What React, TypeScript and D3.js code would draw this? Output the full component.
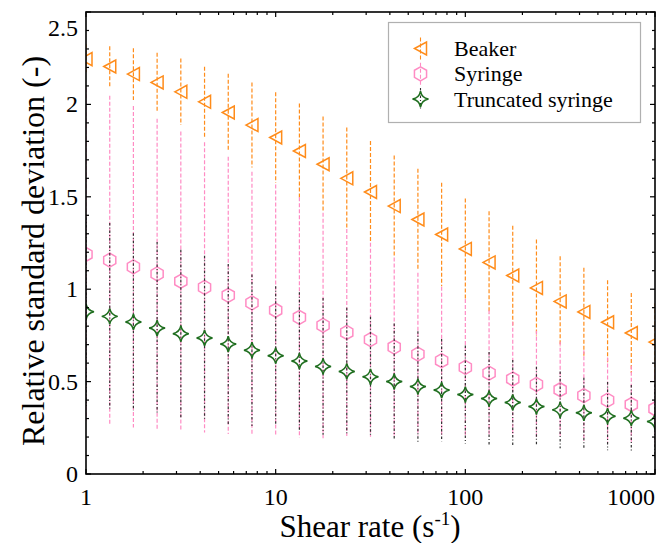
import React from 'react';
import * as d3 from 'd3';

// shear rates (s^-1), 8 points per decade
const shearRate = [1, 1.334, 1.778, 2.371, 3.162, 4.217, 5.623, 7.499, 10, 13.34, 17.78, 23.71, 31.62, 42.17, 56.23, 74.99, 100, 133.4, 177.8, 237.1, 316.2, 421.7, 562.3, 749.9, 1000];

const beaker = [2.245, 2.205, 2.164, 2.119, 2.068, 2.014, 1.956, 1.888, 1.821, 1.748, 1.676, 1.6, 1.526, 1.45, 1.377, 1.296, 1.218, 1.145, 1.074, 1.007, 0.934, 0.877, 0.821, 0.763, 0.714];
const beakerErr = [0.08, 0.11, 0.14, 0.16, 0.18, 0.19, 0.21, 0.23, 0.245, 0.257, 0.258, 0.275, 0.276, 0.274, 0.275, 0.28, 0.273, 0.277, 0.27, 0.262, 0.244, 0.239, 0.227, 0.217, 0.21];

const syringe = [1.188, 1.157, 1.121, 1.083, 1.043, 1.01, 0.967, 0.926, 0.886, 0.848, 0.804, 0.766, 0.727, 0.687, 0.649, 0.613, 0.577, 0.546, 0.514, 0.485, 0.456, 0.424, 0.4, 0.376, 0.353];
const syringeErr = [0.9, 0.89, 0.87, 0.84, 0.81, 0.785, 0.75, 0.71, 0.68, 0.65, 0.61, 0.56, 0.525, 0.485, 0.44, 0.4, 0.37, 0.34, 0.31, 0.29, 0.26, 0.245, 0.23, 0.21, 0.2];

const truncated = [0.878, 0.853, 0.823, 0.79, 0.759, 0.736, 0.703, 0.67, 0.64, 0.611, 0.582, 0.555, 0.526, 0.5, 0.473, 0.454, 0.43, 0.408, 0.387, 0.365, 0.347, 0.331, 0.313, 0.302, 0.284];
const truncatedErr = [0.51, 0.505, 0.48, 0.465, 0.455, 0.445, 0.433, 0.41, 0.376, 0.372, 0.37, 0.344, 0.325, 0.315, 0.3, 0.277, 0.265, 0.252, 0.23, 0.215, 0.208, 0.19, 0.185, 0.18, 0.2];

const xTickLabels = [1, 10, 100, 1000];
const yTickLabels = [0, 0.5, 1, 1.5, 2, 2.5];
const legendNames = ['Beaker', 'Syringe', 'Truncated syringe'];

const W = 659, H = 543;
const left = 86, right = 655, top = 12, bottom = 474;
const FONT = 'Liberation Serif';

const x = d3.scaleLog().domain([1, 1000]).range([left, right]);
const y = d3.scaleLinear().domain([0, 2.5]).range([bottom, top]);

const ORANGE = '#ff8c1a';
const PINK = '#ff8cc4';
const GREEN = '#1f6e1f';

const triangle = 'M-6,0 L6,-6.5 L6,6.5 Z';
const hexagon = d3.range(6).map(i => {
  const a = Math.PI / 3 * i - Math.PI / 2;
  return (i ? 'L' : 'M') + (7 * Math.cos(a)).toFixed(2) + ',' + (7 * Math.sin(a)).toFixed(2);
}).join(' ') + ' Z';
const star = 'M0,-8 Q1.2,-1.2 8,0 Q1.2,1.2 0,8 Q-1.2,1.2 -8,0 Q-1.2,-1.2 0,-8 Z';

const series = [
  { name: legendNames[0], values: beaker, err: beakerErr, color: ORANGE, barColor: ORANGE, dash: '4,2', shape: triangle },
  { name: legendNames[1], values: syringe, err: syringeErr, color: PINK, barColor: PINK, dash: '4,2', shape: hexagon },
  { name: legendNames[2], values: truncated, err: truncatedErr, color: GREEN, barColor: '#333', dash: '2.5,2,1,2', shape: star },
];

function Series({ s }) {
  return (
    <g>
      {shearRate.map((r, i) => (
        <line key={'e' + i} x1={x(r)} x2={x(r)} y1={y(s.values[i] + s.err[i])} y2={y(s.values[i] - s.err[i])}
          stroke={s.barColor} strokeWidth={1.2} strokeDasharray={s.dash} />
      ))}
      {shearRate.map((r, i) => (
        <path key={'m' + i} d={s.shape} transform={`translate(${x(r)},${y(s.values[i])})`}
          fill="none" stroke={s.color} strokeWidth={1.5} />
      ))}
    </g>
  );
}

export default function App() {
  const xt = x.ticks();
  const yt = y.ticks(25);
  const isMajorX = v => Math.abs(Math.log10(v) - Math.round(Math.log10(v))) < 1e-6;
  const isMajorY = v => Math.abs(v * 2 - Math.round(v * 2)) < 1e-6;

  return (
    <svg width={W} height={H} style={{ position: 'absolute', left: 0, top: 0, background: '#fff' }}>
      <defs>
        <clipPath id="plotClip">
          <rect x={left} y={top} width={right - left} height={bottom - top} />
        </clipPath>
      </defs>

      <g clipPath="url(#plotClip)">
        {series.map(s => <Series key={s.name} s={s} />)}
      </g>

      {/* ticks, inward on all sides */}
      {xt.map(v => {
        const len = isMajorX(v) ? 5 : 3;
        return (
          <g key={'xt' + v} stroke="#000" strokeWidth={1.2}>
            <line x1={x(v)} x2={x(v)} y1={bottom} y2={bottom - len} />
            <line x1={x(v)} x2={x(v)} y1={top} y2={top + len} />
          </g>
        );
      })}
      {yt.map(v => {
        const len = isMajorY(v) ? 5 : 3;
        return (
          <g key={'yt' + v} stroke="#000" strokeWidth={1.2}>
            <line x1={left} x2={left + len} y1={y(v)} y2={y(v)} />
            <line x1={right} x2={right - len} y1={y(v)} y2={y(v)} />
          </g>
        );
      })}
      <rect x={left} y={top} width={right - left} height={bottom - top} fill="none" stroke="#000" strokeWidth={1.6} />

      {/* tick labels */}
      {xTickLabels.map((v, i) => (
        <text key={'xl' + v} x={x(v)} y={bottom + 31} fontSize={24} fontFamily={FONT}
          textAnchor={i === xTickLabels.length - 1 ? 'end' : 'middle'}>{v}</text>
      ))}
      {yTickLabels.map((v, i) => (
        <text key={'yl' + v} x={left - 8} y={y(v) + (i === yTickLabels.length - 1 ? 16 : 0)} fontSize={24} fontFamily={FONT}
          textAnchor="end" dominantBaseline="central">{v}</text>
      ))}

      {/* axis titles */}
      <text x={370} y={537} fontSize={31} textAnchor="middle" fontFamily={FONT}>
        Shear rate (s<tspan dy={-12} fontSize={19}>-1</tspan><tspan dy={12}>)</tspan>
      </text>
      <text transform={`translate(44,251) rotate(-90)`} fontSize={32} textAnchor="middle" fontFamily={FONT}>
        Relative standard deviation (-)
      </text>

      {/* legend */}
      <rect x={388.5} y={22.5} width={252} height={100} fill="#fff" stroke="#b0b0b0" strokeWidth={1.2} />
      {series.map((s, i) => {
        const ly = 48.5 + i * 25.3;
        return (
          <g key={'lg' + i}>
            <line x1={420.5} x2={420.5} y1={ly - 11} y2={ly + 11} stroke={s.barColor} strokeWidth={1.1} strokeDasharray={s.dash} />
            <path d={s.shape} transform={`translate(420.5,${ly})`} fill="none" stroke={s.color} strokeWidth={1.5} />
            <text x={454} y={ly + 7.5} fontSize={22} fontFamily={FONT}>{s.name}</text>
          </g>
        );
      })}
    </svg>
  );
}
